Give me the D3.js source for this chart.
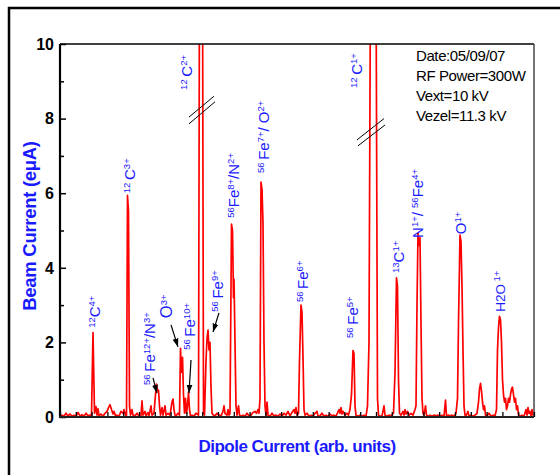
<!DOCTYPE html>
<html><head><meta charset="utf-8">
<script src="https://cdn.jsdelivr.net/npm/d3@7"></script>
<style>body{margin:0;background:#fff}svg{display:block}text{font-family:"Liberation Sans",Arial,sans-serif}</style>
</head><body><svg id="c" width="560" height="475"></svg>
<script>
// Spectrum trace: [dipole current (arb.), beam current (eμA)]
const trace = [
[0,0.02],[2,0.05],[4,0.02],[6,0.1],[8,0.03],[10,0.08],[12,0.02],[14,0.05],[16,0.02],[18,0.12],[20,0.03],[22,0.06],[24,0.02],[26,0.1],[28,0.03],[30,0.05],
[31.5,0.05],[33,2.26],[34.5,0.1],[36,0.28],[37,0.05],[38,0.22],[39,0.03],[41,0.08],[43,0.02],[45,0.1],[47,0.15],[48.5,0.25],[50,0.33],[51.5,0.2],[53,0.08],[54,0.15],[55.5,0.03],[57,0.05],[59,0.02],[61,0.15],[63,0.1],[64,0.2],[65.5,0.05],
[66.5,0.05],[67.5,5.94],[68.5,5.5],[69.5,0.3],[70.5,0.05],[72,0.2],[73,0.05],[75,0.03],[77,0.1],[79,0.02],[81,0.05],[82,0.43],[83,0.05],[85,0.15],[86,0.03],[88,0.12],[89,0.03],[91,0.3],[92,0.05],[94,0.1],[95.5,0.6],[96.5,0.88],[97.5,0.7],[98.5,0.72],[99.5,0.3],[100.5,0.05],[102,0.25],[103,0.05],[105,0.3],[106,0.05],[108,0.1],[110,0.05],[112,0.4],[113,0.48],[114,0.2],[115,0.05],[116,0.03],[118,0.1],[119.5,0.05],[120.5,1.84],[121.5,1.2],[122.5,1.6],[123.5,0.6],[124.5,0.1],[125.5,0.5],[126.5,0.1],[127.5,0.3],[128.5,0.67],[129.5,0.2],[130.5,0.02],[132,0.05],[134,0.02],[136,0.1],[138.5,0.05],
[139.5,12],[142.5,12],[143.5,0.1],[144.5,0.05],[146,1.5],[147,2.1],[148,2.33],[149,1.8],[150,2.0],[151,0.8],[152,0.1],[153.5,0.05],[155,0.03],[157,0.1],[159,0.05],[161,0.03],[163,0.15],[164,0.3],[165,0.1],[167,0.05],[168,0.2],[169,0.05],
[170,0.1],[171.5,5.17],[172.5,5.0],[173.5,3.2],[174,3.7],[175,2.0],[176,0.3],[177,0.05],[178.5,0.3],[179.5,0.05],[181,0.02],[183,0.05],[185,0.02],[187,0.1],[189,0.03],[191,0.05],[193,0.12],[195,0.15],[196.5,0.1],[198,0.2],[199,0.1],
[200,0.5],[201,6.3],[202,6.1],[203,5.2],[204,2.0],[205,0.3],[206,0.05],[207,0.4],[208,0.05],[210,0.02],[212,0.1],[214,0.03],[216,0.05],[218,0.02],[220,0.08],[222,0.03],[224,0.1],[226,0.05],[228,0.15],[230,0.03],[232,0.12],[234,0.2],[235,0.1],[236,0.25],[237,0.05],[238.5,0.1],
[239.5,1.5],[241,3.0],[242,2.8],[243,1.6],[244,0.2],[245,0.05],[247,0.1],[249,0.02],[251,0.05],[253,0.02],[255,0.1],[257,0.15],[258,0.02],[260,0.03],[262,0.1],[264,0.02],[266,0.05],[268,0.02],[270,0.08],[272,0.03],[274,0.05],[276,0.02],[279,0.2],[280,0.1],[281,0.25],[282,0.08],[283,0.15],[285,0.05],[287,0.1],[288.5,0.05],[290,0.2],
[291.5,0.6],[293,1.78],[294,1.7],[295,0.3],[296,0.05],[298,0.02],[300,0.05],[302,0.02],[304,0.05],[306,0.02],[307.5,0.3],
[309,2],[310.5,12],[316,12],[317.5,0.5],[318.5,0.05],[320,0.02],[322,0.03],[324,0.3],[325,0.05],[327,0.02],[329,0.05],[331,0.03],[333.5,0.1],
[335,1.2],[336.5,3.73],[337.5,3.5],[338.5,1.0],[339.5,0.1],[341,0.05],[343,0.15],[344,0.05],[345,0.2],[346,0.08],[347.5,0.15],[349,0.05],[351,0.1],[353,0.05],[355,0.2],[356,0.3],
[357,3.0],[358,4.93],[359,4.6],[360,4.8],[361,2.5],[362,0.5],[363,0.1],[364,0.05],[365.5,0.3],[366.5,0.05],[368,0.02],[370,0.05],[372,0.02],[374,0.05],[376,0.03],[378,0.05],[380,0.02],[382,0.05],[384,0.02],[385.5,0.45],[386.5,0.02],[388,0.05],[390,0.03],[392,0.05],[394,0.02],[396,0.1],[397.5,0.5],
[398.5,2.5],[400,4.88],[401,4.7],[402,3.5],[403,1.8],[404,0.3],[405,0.05],[406,0.03],[408,0.15],[409,0.02],[411,0.05],[413,0.02],[415,0.05],[417,0.1],[418.5,0.4],[419.5,0.75],[420.5,0.9],[421.5,0.7],[422.5,0.4],[423.5,0.2],[424.5,0.3],[425.5,0.05],[427,0.03],[429,0.1],[431,0.02],[433,0.05],[435,0.03],[436.5,0.2],
[437.5,1.8],[438.5,2.4],[439.5,2.7],[440.5,2.6],[441.5,2.0],[442.5,1.0],[443.5,0.6],[444.5,0.4],[445.5,0.5],[446.5,0.2],[447.5,0.3],[448.5,0.5],[449.5,0.4],[450.5,0.6],[451.5,0.75],[452.5,0.8],[453.5,0.6],[454.5,0.4],[455.5,0.5],[456.5,0.2],[457.5,0.3],[458.5,0.05],[460,0.02],[462,0.05],[464,0.02],[466,0.2],[467,0.05],[468,0.25],[469,0.1],[470,0.15],[471,0.03],[472,0.2],[473,0.05],[474,0.1]
];
const yTicksMajor = [0,2,4,6,8,10];
const yTicksMinor = [1,3,5,7,9];
const xTickCount = 30;
// Peak labels: parts [text, isSup], anchor [x, y] in data units
const peakLabels = [
 {parts:[["12",1],["C",0],["4+",1]], at:[40,2.39]},
 {parts:[["12 ",1],["C",0],["3+",1]], at:[75,6.0]},
 {parts:[["12 ",1],["C",0],["2+",1]], at:[132,8.77]},
 {parts:[["56",1],["Fe",0],["8+",1],["/N",0],["2+",1]], at:[179,5.34]},
 {parts:[["56 ",1],["Fe",0],["7+",1],["/ O",0],["2+",1]], at:[209,6.54]},
 {parts:[["56 ",1],["Fe",0],["12+",1],["/N",0],["3+",1]], at:[95,0.86]},
 {parts:[["O",0],["3+",1]], at:[112,2.65], size:16.5},
 {parts:[["56 ",1],["Fe",0],["10+",1]], at:[135,1.8]},
 {parts:[["56 ",1],["Fe",0],["9+",1]], at:[163,2.82]},
 {parts:[["56 ",1],["Fe",0],["6+",1]], at:[248,3.08]},
 {parts:[["56 ",1],["Fe",0],["5+",1]], at:[298,2.12]},
 {parts:[["12 ",1],["C",0],["1+",1]], at:[302,8.82]},
 {parts:[["13",1],["C",0],["1+",1]], at:[344,3.86]},
 {parts:[["N",0],["1+",1],["/ ",0],["56",1],["Fe",0],["4+",1]], at:[363,4.8]},
 {parts:[["O",0],["1+",1]], at:[406,4.9]},
 {parts:[["H2O",0],[" 1+",1]], at:[445,2.82], size:13.5}
];
const arrows = [
 [[93,1.05],[97,0.64]],
 [[111,2.47],[118,1.88]],
 [[131,1.53],[129,0.64]],
 [[159,2.79],[153,2.28]]
];
const breaks = [
 [[129,8.04],[154,8.6]], [[129,7.86],[155,8.45]],
 [[297,7.43],[324,8.0]], [[298,7.27],[325,7.83]]
];
const infoLines = ["Date:05/09/07","RF Power=300W","Vext=10 kV","Vezel=11.3 kV"];

const svg = d3.select("#c");
const L=60, R=534, T=44, B=417;
const x = d3.scaleLinear().domain([0,474]).range([L,R]);
const y = d3.scaleLinear().domain([0,10]).range([B,T]);

// outer frame
svg.append("rect").attr("x",9).attr("y",8).attr("width",700).attr("height",700)
  .attr("fill","none").attr("stroke","#000").attr("stroke-width",2.5);

svg.append("defs").append("clipPath").attr("id","clip")
  .append("rect").attr("x",L).attr("y",T).attr("width",R-L).attr("height",B-T);
const mk = svg.select("defs").append("marker").attr("id","ah").attr("viewBox","0 0 10 10")
  .attr("refX",10).attr("refY",5).attr("markerWidth",7).attr("markerHeight",7).attr("orient","auto");
mk.append("path").attr("d","M0,1.5 L10,5 L0,8.5 Z").attr("fill","#000");

// trace
svg.append("path").datum(trace).attr("clip-path","url(#clip)")
  .attr("fill","none").attr("stroke","#ff0000").attr("stroke-width",1.7).attr("stroke-linejoin","round")
  .attr("d", d3.line().x(d=>x(d[0])).y(d=>y(d[1])));

// frame top/right
svg.append("line").attr("x1",L).attr("x2",R).attr("y1",T).attr("y2",T).attr("stroke","#000").attr("stroke-width",1.5);
svg.append("line").attr("x1",R).attr("x2",R).attr("y1",T).attr("y2",B).attr("stroke","#444").attr("stroke-width",1.5);

// y axis
const yAx = svg.append("g").attr("transform",`translate(${L},0)`)
  .call(d3.axisRight(y).tickValues(yTicksMajor).tickSize(6).tickFormat(""));
yAx.select(".domain").remove();
yAx.selectAll("line").attr("stroke","#000").attr("stroke-width",1.5);
const yAx2 = svg.append("g").attr("transform",`translate(${L},0)`)
  .call(d3.axisRight(y).tickValues(yTicksMinor).tickSize(4).tickFormat(""));
yAx2.select(".domain").remove();
yAx2.selectAll("line").attr("stroke","#000").attr("stroke-width",1.5);
svg.append("g").selectAll("text").data(yTicksMajor).join("text")
  .attr("x",L-6).attr("y",d=>y(d)).attr("dy","0.36em").attr("text-anchor","end")
  .attr("font-size",16).attr("font-weight","bold").attr("fill","#000").text(d=>d);

// x axis
const xt = d3.range(0,xTickCount+1).map(i=>i*474/xTickCount);
const xAx = svg.append("g").attr("transform",`translate(0,${B})`)
  .call(d3.axisTop(x).tickValues(xt).tickSize(5).tickFormat(""));
xAx.select(".domain").remove();
xAx.selectAll("line").attr("stroke","#000").attr("stroke-width",1.3);

svg.append("line").attr("x1",L).attr("x2",L).attr("y1",T).attr("y2",B+1).attr("stroke","#000").attr("stroke-width",2.2);
svg.append("line").attr("x1",L-1).attr("x2",R).attr("y1",B).attr("y2",B).attr("stroke","#222").attr("stroke-width",2.2);

// breaks
svg.append("g").selectAll("line").data(breaks).join("line")
  .attr("x1",d=>x(d[0][0])).attr("y1",d=>y(d[0][1])).attr("x2",d=>x(d[1][0])).attr("y2",d=>y(d[1][1]))
  .attr("stroke","#000").attr("stroke-width",1);

// arrows
svg.append("g").selectAll("line").data(arrows).join("line")
  .attr("x1",d=>x(d[0][0])).attr("y1",d=>y(d[0][1])).attr("x2",d=>x(d[1][0])).attr("y2",d=>y(d[1][1]))
  .attr("stroke","#000").attr("stroke-width",1.2).attr("marker-end","url(#ah)");

// peak labels
peakLabels.forEach(lb=>{
  const fs = lb.size||15, ss = 9.5;
  const t = svg.append("text").attr("fill","#1a1aff")
    .attr("transform",`translate(${x(lb.at[0])},${y(lb.at[1])}) rotate(-90)`);
  let prev = 0;
  lb.parts.forEach(p=>{
    const lvl = p[1] ? -5.5 : 0;
    t.append("tspan").attr("dy", lvl-prev).attr("font-size", p[1]?ss:fs)
      .attr("xml:space","preserve").style("white-space","pre").text(p[0]);
    prev = lvl;
  });
});

// info text
svg.append("g").selectAll("text").data(infoLines).join("text")
  .attr("x",x(356)).attr("y",(d,i)=>y(9.54)+i*19.8).attr("font-size",15).attr("letter-spacing","-0.4")
  .attr("fill","#000").text(d=>d);

// axis titles
svg.append("text").attr("x",(L+R)/2).attr("y",452).attr("text-anchor","middle")
  .attr("font-size",17).attr("font-weight","bold").attr("letter-spacing","-0.5").attr("fill","#1a1aff")
  .text("Dipole Current (arb. units)");
svg.append("text").attr("transform",`translate(36,226) rotate(-90)`).attr("text-anchor","middle")
  .attr("font-size",18.5).attr("font-weight","bold").attr("letter-spacing","-0.3").attr("fill","#1a1aff")
  .text("Beam Current (eμA)");
</script></body></html>
